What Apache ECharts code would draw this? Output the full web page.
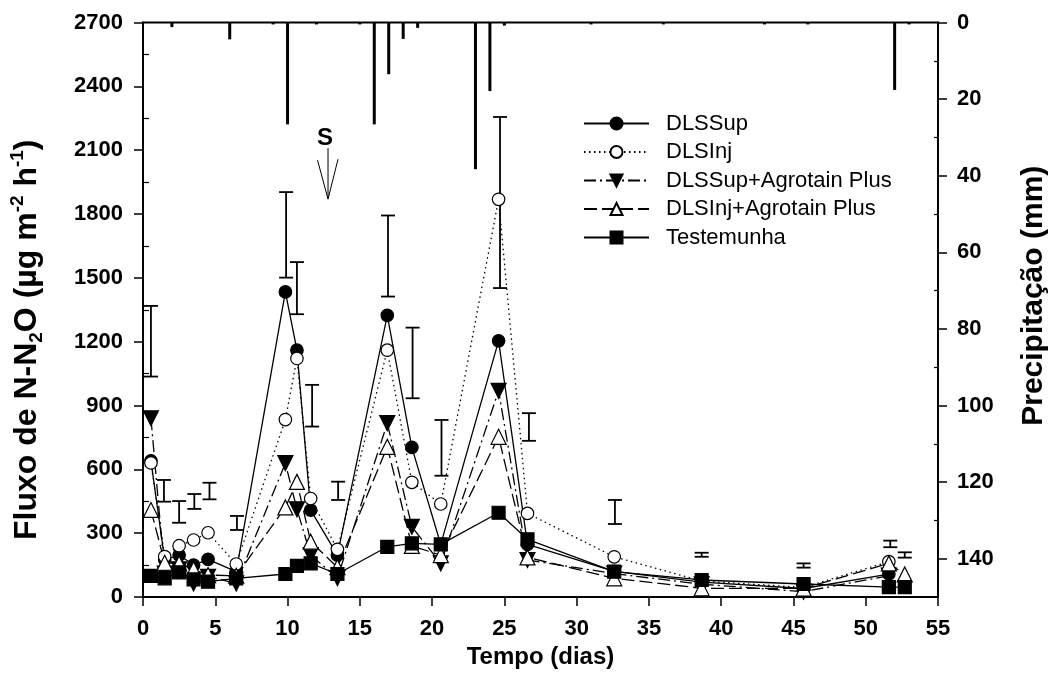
<!DOCTYPE html>
<html>
<head>
<meta charset="utf-8">
<script src="https://cdn.jsdelivr.net/npm/echarts@6/dist/echarts.min.js"></script>
<style>
  html, body { margin: 0; padding: 0; background: #fff; }
  #chart { width: 1057px; height: 695px; }
</style>
</head>
<body>
<div id="chart"></div>
<script>
// dias de amostragem (eixo x)
const dias = [0.55, 1.5, 2.5, 3.5, 4.5, 6.45, 9.85, 10.65, 11.6, 13.45, 16.9, 18.6, 20.6, 24.6, 26.6, 32.6, 38.65, 45.7, 51.6, 52.7];

// fluxo de N-N2O por tratamento (ug m-2 h-1)
const dlsSup     = [640, 175, 197, 150, 177, 119, 1434, 1160, 408, 197, 1324, 703, 247, 1204, 247, 120, 70, 40, 108, null];
const dlsInj     = [630, 190, 241, 268, 302, 155, 834, 1121, 463, 224, 1160, 539, 437, 1869, 393, 189, 75, 45, 166, null];
const dlsSupAP   = [840, 110, 130, 64, 95, 64, 629, 412, 197, 89, 817, 330, 158, 969, 174, 110, 60, 25, 100, null];
const dlsInjAP   = [409, 161, 158, 130, 103, 100, 421, 541, 260, 140, 706, 240, 197, 753, 186, 88, 41, 40, 158, 106];
const testemunha = [99, 88, 116, 83, 72, 88, 108, 146, 158, 108, 236, 252, 247, 396, 271, 119, 80, 61, 46, 46];

// barras de erro (DMS)
const erroDias = [0.55, 1.45, 2.5, 3.55, 4.6, 6.5, 9.9, 10.65, 11.7, 13.5, 16.95, 18.65, 20.65, 24.7, 26.7, 32.65, 38.65, 45.7, 51.7, 52.7];
const erroMin  = [1036, 448, 349, 414, 459, 315, 1501, 1329, 801, 456, 1412, 934, 570, 1452, 734, 343, 189, 138, 234, 185];
const erroMax  = [1368, 550, 451, 484, 537, 381, 1903, 1574, 997, 542, 1793, 1266, 832, 2256, 864, 456, 208, 158, 265, 210];

// precipitacao (mm)
const chuvaDias = [2, 6, 9, 10, 12, 15, 16, 17, 18, 19, 23, 24, 25, 31, 36, 43, 46, 52, 53];
const chuvaMm   = [1.2, 4.4, 0.5, 26.6, 0.5, 0.5, 26.6, 13.5, 4.3, 1.4, 38.3, 17.9, 0.8, 0.5, 0.5, 0.5, 0.5, 17.6, 0.5];

// seta "S"
const setaDia = 12.8;
const setaTopo = 2110;
const setaPonta = 1870;

const fonte = "'Liberation Sans', Arial, sans-serif";

let chart = echarts.init(document.getElementById("chart"));

function pares(vals) {
  return dias.map((d, i) => [d, vals[i]]);
}

let minorLeft = [];
for (let v = 150; v < 2700; v += 300) minorLeft.push(v);
let minorRight = [];
for (let v = 10; v < 150; v += 20) minorRight.push(v);

const tickLabel = { fontSize: 22, fontWeight: "bold", color: "#000", fontFamily: fonte, formatter: v => String(v) };
const axisLine = { show: true, lineStyle: { color: "#000", width: 1.8 } };

function serie(name, vals, symbol, size, fill, lineType, extra) {
  return Object.assign({
    name: name,
    type: "line",
    data: pares(vals),
    connectNulls: true,
    symbol: symbol,
    symbolSize: size,
    showAllSymbol: true,
    itemStyle: { color: fill, borderColor: "#000", borderWidth: 1.2 },
    lineStyle: { color: "#000", width: 1.3, type: lineType },
    emphasis: { disabled: true },
    animation: false
  }, extra || {});
}

let option = {
  backgroundColor: "#fff",
  animation: false,
  grid: { left: 142, right: 116, top: 22.5, bottom: 98, show: true, borderColor: "#000", borderWidth: 1.8 },
  legend: {
    orient: "vertical",
    left: 578,
    top: 107.5,
    itemWidth: 65,
    itemHeight: 15,
    itemGap: 6.5,
    textStyle: { fontSize: 22, color: "#000", fontFamily: fonte, padding: [0, 0, 0, 12] },
    data: ["DLSSup", "DLSInj", "DLSSup+Agrotain Plus", "DLSInj+Agrotain Plus", "Testemunha"]
  },
  xAxis: [{
    type: "value",
    min: 0,
    max: 55,
    interval: 5,
    axisLine: axisLine,
    axisTick: { show: true, length: 9, lineStyle: { color: "#000", width: 1.5 } },
    splitLine: { show: false },
    axisLabel: Object.assign({ margin: 21 }, tickLabel),
    name: "Tempo (dias)",
    nameLocation: "middle",
    nameGap: 46,
    nameTextStyle: { fontSize: 24, fontWeight: "bold", color: "#000", fontFamily: fonte }
  }],
  yAxis: [{
    type: "value",
    position: "left",
    min: 0,
    max: 2700,
    interval: 300,
    axisLine: axisLine,
    axisTick: { show: true, length: 9, lineStyle: { color: "#000", width: 1.5 } },
    splitLine: { show: false },
    axisLabel: Object.assign({ margin: 20 }, tickLabel),
    name: "Fluxo de N-N{sub|2}O (µg m{sup|-2} h{sup|-1})",
    nameLocation: "middle",
    nameRotate: 90,
    nameGap: 97,
    nameTextStyle: {
      fontSize: 32, fontWeight: "bold", color: "#000", fontFamily: fonte, lineHeight: 38,
      padding: [0, 60, 0, 0],
      rich: {
        sub: { fontSize: 19, fontWeight: "bold", color: "#000", fontFamily: fonte, verticalAlign: "bottom", lineHeight: 19 },
        sup: { fontSize: 19, fontWeight: "bold", color: "#000", fontFamily: fonte, verticalAlign: "top", lineHeight: 19 }
      }
    }
  }, {
    type: "value",
    position: "right",
    min: 0,
    max: 150,
    interval: 20,
    inverse: true,
    axisLine: axisLine,
    axisTick: { show: true, length: 9, lineStyle: { color: "#000", width: 1.5 } },
    splitLine: { show: false },
    axisLabel: Object.assign({ margin: 19, showMaxLabel: false }, tickLabel),
    name: "Precipitação (mm)",
    nameLocation: "middle",
    nameRotate: 90,
    nameGap: 81,
    nameTextStyle: { fontSize: 30, fontWeight: "bold", color: "#000", fontFamily: fonte, padding: [0, 0, 0, 28] }
  }, {
    type: "value",
    position: "left",
    min: 0,
    max: 2700,
    axisLine: { show: false },
    axisTick: { show: true, inside: true, length: 6, customValues: minorLeft, lineStyle: { color: "#000", width: 1.2 } },
    axisLabel: { show: false },
    splitLine: { show: false }
  }, {
    type: "value",
    position: "right",
    min: 0,
    max: 150,
    inverse: true,
    axisLine: { show: false },
    axisTick: { show: true, inside: true, length: 4, customValues: minorRight, lineStyle: { color: "#000", width: 1.2 } },
    axisLabel: { show: false },
    splitLine: { show: false }
  }],
  series: [
    {
      name: "Precipitação",
      type: "bar",
      yAxisIndex: 1,
      barWidth: 3,
      data: chuvaDias.map((d, i) => [d, chuvaMm[i]]),
      itemStyle: { color: "#000" },
      emphasis: { disabled: true }
    },
    {
      name: "DMS",
      type: "custom",
      data: erroDias.map((d, i) => [d, erroMin[i], erroMax[i]]),
      encode: { x: 0, y: [1, 2] },
      renderItem: function (params, api) {
        let x = api.value(0);
        let lo = api.coord([x, api.value(1)]);
        let hi = api.coord([x, api.value(2)]);
        let w = 7;
        let st = { stroke: "#000", lineWidth: 1.8 };
        return {
          type: "group",
          children: [
            { type: "line", shape: { x1: lo[0], y1: lo[1], x2: hi[0], y2: hi[1] }, style: st },
            { type: "line", shape: { x1: lo[0] - w, y1: lo[1], x2: lo[0] + w, y2: lo[1] }, style: st },
            { type: "line", shape: { x1: hi[0] - w, y1: hi[1], x2: hi[0] + w, y2: hi[1] }, style: st }
          ]
        };
      }
    },
    serie("DLSSup", dlsSup, "circle", 12.5, "#000", "solid"),
    serie("DLSInj", dlsInj, "circle", 12.5, "#fff", [1.5, 3.5]),
    serie("DLSSup+Agrotain Plus", dlsSupAP, "triangle", 15, "#000", [12, 4, 2, 4], { symbolRotate: 180 }),
    serie("DLSInj+Agrotain Plus", dlsInjAP, "triangle", 15, "#fff", [13, 5]),
    serie("Testemunha", testemunha, "rect", 13, "#000", "solid"),
    {
      name: "S",
      type: "custom",
      data: [[setaDia, setaTopo, setaPonta]],
      renderItem: function (params, api) {
        let top = api.coord([api.value(0), api.value(1)]);
        let tip = api.coord([api.value(0), api.value(2)]);
        let st = { stroke: "#000", lineWidth: 1 };
        return {
          type: "group",
          children: [
            { type: "line", shape: { x1: top[0], y1: top[1], x2: tip[0], y2: tip[1] }, style: st },
            { type: "line", shape: { x1: tip[0] - 10.5, y1: tip[1] - 39, x2: tip[0], y2: tip[1] }, style: st },
            { type: "line", shape: { x1: tip[0] + 10, y1: tip[1] - 40, x2: tip[0], y2: tip[1] }, style: st },
            {
              type: "text",
              x: top[0] - 3,
              y: top[1] - 10,
              style: { text: "S", fontSize: 24, fontWeight: "bold", fontFamily: fonte, fill: "#000", align: "center", verticalAlign: "middle" }
            }
          ]
        };
      }
    }
  ]
};

chart.setOption(option);
</script>
</body>
</html>
